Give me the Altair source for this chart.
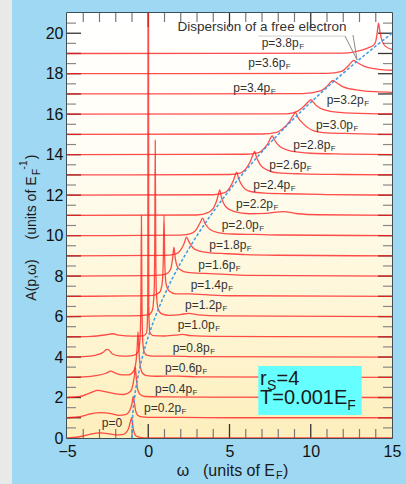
import altair as alt
import pandas as pd

FONT = "Liberation Sans"

# ---------------- data ----------------
p_labels = ["0", "0.2", "0.4", "0.6", "0.8", "1.0", "1.2", "1.4", "1.6", "1.8",
            "2.0", "2.2", "2.4", "2.6", "2.8", "3.0", "3.2", "3.4", "3.6", "3.8"]

# spectral function A(p, w) above each curve's baseline (baseline = index of p)
w00 = [-5, -4.3, -3.6, -3.0, -2.5, -2.0, -1.6, -1.35, -1.2, -1.1, -1.02, -0.95, -0.88, -0.75, -0.5, 0, 15]
a00 = [0.0, 0.05, 0.18, 0.25, 0.22, 0.15, 0.17, 0.28, 0.5, 0.8, 1.0, 0.6, 0.3, 0.1, 0.03, 0, 0]
w02 = [-5, -4.2, -3.5, -2.9, -2.3, -1.8, -1.4, -1.15, -1.0, -0.92, -0.86, -0.78, -0.65, -0.4, 0, 2, 5, 15]
a02 = [0.0, 0.05, 0.2, 0.25, 0.2, 0.12, 0.15, 0.35, 0.7, 1.05, 0.8, 0.35, 0.12, 0.04, 0.02, 0.02, 0.0, 0]
w04 = [-5, -4.2, -3.5, -3.1, -2.6, -2.0, -1.5, -1.1, -0.95, -0.85, -0.8, -0.74, -0.65, -0.5, -0.2, 1, 3, 15]
a04 = [0, 0.05, 0.25, 0.35, 0.28, 0.18, 0.15, 0.3, 0.6, 1.1, 1.5, 1.0, 0.4, 0.15, 0.05, 0.03, 0.02, 0]
w06 = [-5, -4, -3.2, -2.6, -2.3, -2.0, -1.6, -1.2, -0.9, -0.75, -0.68, -0.63, -0.58, -0.5, -0.35, -0.1, 0.5, 1.8, 3, 15]
a06 = [0, 0.02, 0.08, 0.2, 0.3, 0.2, 0.12, 0.12, 0.3, 0.8, 1.5, 2.25, 1.4, 0.6, 0.2, 0.08, 0.05, 0.06, 0.02, 0]
w08 = [-5, -4, -3.2, -2.8, -2.55, -2.45, -2.2, -1.8, -1.3, -0.9, -0.6, -0.5, -0.45, -0.42, -0.39, -0.34, -0.25, -0.1, 0.3, 1.5, 3, 15]
a08 = [0, 0.02, 0.1, 0.22, 0.38, 0.36, 0.15, 0.06, 0.05, 0.08, 0.3, 1.0, 3.0, 7.0, 3.0, 0.8, 0.25, 0.1, 0.05, 0.05, 0.02, 0]
w10 = [-5, -3.5, -2.6, -2.2, -1.8, -1.0, -0.3, -0.1, -0.03, 0, 0.03, 0.1, 0.3, 1.0, 1.7, 2.1, 2.6, 4, 15]
a10 = [0, 0.02, 0.1, 0.15, 0.08, 0.03, 0.05, 0.2, 1.5, 30, 1.5, 0.2, 0.06, 0.04, 0.08, 0.12, 0.06, 0.02, 0]
w12 = [-5, -2.5, -1, 0, 0.25, 0.36, 0.4, 0.43, 0.46, 0.5, 0.6, 0.8, 1.3, 2.0, 2.5, 3.1, 4.5, 15]
a12 = [0, 0.03, 0.03, 0.08, 0.3, 1.2, 3.5, 8.7, 3.5, 1.2, 0.4, 0.15, 0.06, 0.1, 0.16, 0.08, 0.03, 0]
w14 = [-5, -1, 0.3, 0.7, 0.85, 0.92, 0.97, 1.02, 1.1, 1.3, 1.7, 2.5, 3.5, 5, 15]
a14 = [0, 0.02, 0.05, 0.2, 0.6, 1.6, 4.0, 1.6, 0.6, 0.25, 0.12, 0.12, 0.08, 0.03, 0]
w16 = [-5, 0, 0.9, 1.2, 1.4, 1.5, 1.58, 1.66, 1.8, 2.0, 2.4, 3.5, 4.5, 6, 15]
a16 = [0, 0.02, 0.06, 0.15, 0.4, 0.9, 1.43, 0.9, 0.45, 0.3, 0.18, 0.13, 0.1, 0.04, 0]
w18 = [-5, 1, 1.7, 2.0, 2.2, 2.36, 2.5, 2.75, 3.1, 3.8, 4.5, 6, 8, 15]
a18 = [0, 0.02, 0.1, 0.3, 0.6, 0.92, 0.7, 0.4, 0.25, 0.15, 0.12, 0.06, 0.03, 0]
w20 = [-5, 2, 2.7, 3.0, 3.2, 3.34, 3.5, 3.8, 4.3, 5.2, 6.5, 8, 15]
a20 = [0, 0.02, 0.12, 0.35, 0.65, 0.86, 0.6, 0.3, 0.15, 0.08, 0.06, 0.03, 0]
w22 = [-5, 3, 3.7, 4.0, 4.2, 4.32, 4.4, 4.5, 4.8, 5.3, 6.2, 7.3, 8.3, 9.2, 10.5, 15]
a22 = [0, 0.02, 0.15, 0.35, 0.7, 1.05, 1.26, 0.9, 0.4, 0.18, 0.08, 0.1, 0.19, 0.08, 0.03, 0]
w24 = [-5, 4, 4.7, 5.0, 5.25, 5.38, 5.44, 5.55, 5.8, 6.3, 7.2, 8.5, 11, 15]
a24 = [0, 0.02, 0.12, 0.35, 0.75, 1.05, 1.14, 0.85, 0.45, 0.18, 0.1, 0.07, 0.03, 0]
w26 = [-5, 5, 5.7, 6.0, 6.3, 6.47, 6.55, 6.65, 6.9, 7.3, 8, 9.5, 12, 15]
a26 = [0, 0.02, 0.1, 0.3, 0.7, 1.05, 1.16, 0.9, 0.5, 0.25, 0.1, 0.05, 0.02, 0]
w28 = [-5, 6, 6.8, 7.1, 7.4, 7.55, 7.63, 7.75, 8.1, 8.9, 10, 12, 15]
a28 = [0, 0.02, 0.1, 0.28, 0.6, 0.85, 0.93, 0.75, 0.4, 0.16, 0.07, 0.03, 0]
w30 = [-5, 7, 7.9, 8.3, 8.7, 8.95, 9.06, 9.2, 9.5, 10.2, 11, 12.5, 15]
a30 = [0, 0.02, 0.1, 0.3, 0.65, 0.98, 1.09, 0.85, 0.56, 0.18, 0.08, 0.04, 0]
w32 = [-5, 8.5, 9.2, 9.6, 9.9, 10.02, 10.15, 10.4, 11.2, 12.5, 15]
a32 = [0, 0.02, 0.15, 0.4, 0.65, 0.72, 0.6, 0.39, 0.14, 0.05, 0.01]
w34 = [-5, 9.5, 10.6, 11.0, 11.25, 11.37, 11.55, 12.0, 13.0, 14.0, 15]
a34 = [0, 0.02, 0.15, 0.38, 0.6, 0.67, 0.58, 0.35, 0.18, 0.11, 0.08]
w36 = [-5, 11, 11.9, 12.3, 12.52, 12.64, 12.8, 13.3, 13.9, 14.5, 15]
a36 = [0, 0.02, 0.12, 0.38, 0.58, 0.66, 0.58, 0.36, 0.25, 0.19, 0.17]
w38 = [-5, 12, 12.7, 13.2, 13.6, 13.85, 14.0, 14.1, 14.17, 14.25, 14.4, 14.6, 15]
a38 = [0, 0.02, 0.08, 0.18, 0.3, 0.4, 0.6, 1.1, 1.5, 1.1, 0.6, 0.35, 0.2]

curves = [(w00, a00), (w02, a02), (w04, a04), (w06, a06), (w08, a08),
          (w10, a10), (w12, a12), (w14, a14), (w16, a16), (w18, a18),
          (w20, a20), (w22, a22), (w24, a24), (w26, a26), (w28, a28),
          (w30, a30), (w32, a32), (w34, a34), (w36, a36), (w38, a38)]

# free-electron dispersion (omega, offset)
disp_omega = [-1, -0.96, -0.84, -0.64, -0.36, 0, 0.44, 0.96, 1.56, 2.24, 3.0,
              3.84, 4.76, 5.76, 6.84, 8.0, 9.24, 10.56, 11.96, 13.44, 15.0]
disp_y = [0, 1, 2, 3, 4, 5, 6, 7, 8, 9, 10, 11, 12, 13, 14, 15, 16, 17, 18, 19, 20]

# curve label anchors
label_omega = [-2.86, -0.26, 0.42, 1.03, 1.50, 1.81, 2.26, 2.61, 3.08, 3.76,
               4.52, 5.40, 6.46, 7.45, 8.93, 10.32, 10.98, 5.23, 6.16, 6.98]
label_y = [0.73, 1.50, 2.42, 3.44, 4.46, 5.58, 6.57, 7.56, 8.55, 9.54,
           10.52, 11.55, 12.50, 13.49, 14.48, 15.46, 16.70, 17.28, 18.51, 19.50]

x_tick_labels = [-5, 0, 5, 10, 15]
y_tick_labels = [0, 2, 4, 6, 8, 10, 12, 14, 16, 18, 20]

# ---------------- tables ----------------
rows = []
for k, (ws, As) in enumerate(curves):
    for w, a in zip(ws, As):
        rows.append({"k": k, "omega": w, "y": k + a})
df_curves = pd.DataFrame(rows)
df_disp = pd.DataFrame({"omega": disp_omega, "y": disp_y})
df_labels = pd.DataFrame({
    "omega": label_omega, "y": label_y,
    "text": [("p=" + p + "p") if p != "0" else "p=0" for p in p_labels],
    "sub": ["F" if p != "0" else "" for p in p_labels],
})
df_ymaj = pd.DataFrame({"v": list(range(1, 21))})
df_ymin = pd.DataFrame({"v": [i + 0.5 for i in range(21)]})
df_xmaj = pd.DataFrame({"v": [0, 5, 10]})
df_xmin = pd.DataFrame({"v": [v for v in range(-4, 15) if v % 5 != 0]})
dummy = pd.DataFrame({"a": [0]})

W, H = 325, 425
xscale = alt.Scale(domain=[-5, 15], nice=False, zero=False)
yscale = alt.Scale(domain=[0, 21], nice=False, zero=False)
xaxis = alt.Axis(values=x_tick_labels, title=None, ticks=False, domain=False, grid=False,
                 labelFontSize=16, labelFont=FONT, labelColor="#111", labelPadding=5,
                 labelFlush=False)
yaxis = alt.Axis(values=y_tick_labels, title=None, ticks=False, domain=False, grid=False,
                 labelFontSize=16, labelFont=FONT, labelColor="#111", labelPadding=4)


def X(f):
    return alt.X(f, type="quantitative", scale=xscale, axis=xaxis)


def Y(f):
    return alt.Y(f, type="quantitative", scale=yscale, axis=yaxis)


layers = []

# gray strip at far left of canvas
layers.append(alt.Chart(dummy).mark_rect(color="#e9e9e9").encode(
    x=alt.value(-67), x2=alt.value(-55), y=alt.value(-13), y2=alt.value(471)))

# gradient plot background
grad = alt.Gradient(gradient="linear",
                    stops=[alt.GradientStop(color="#ffffff", offset=0),
                           alt.GradientStop(color="#fffdf3", offset=0.35),
                           alt.GradientStop(color="#fef6d6", offset=0.7),
                           alt.GradientStop(color="#fdeebc", offset=1)],
                    x1=0, x2=0, y1=0, y2=1)
layers.append(alt.Chart(dummy).mark_rect(color=grad).encode(
    x=alt.value(0), x2=alt.value(W), y=alt.value(0), y2=alt.value(H)))

# ticks (inward)
layers.append(alt.Chart(df_ymaj).mark_rule(color="#333", strokeWidth=1.3).encode(
    y=Y("v"), x=alt.value(0), x2=alt.value(14)))
layers.append(alt.Chart(df_ymaj).mark_rule(color="#333", strokeWidth=1.3).encode(
    y=Y("v"), x=alt.value(W), x2=alt.value(W - 14)))
layers.append(alt.Chart(df_ymin).mark_rule(color="#888", strokeWidth=1.2).encode(
    y=Y("v"), x=alt.value(0), x2=alt.value(9)))
layers.append(alt.Chart(df_ymin).mark_rule(color="#888", strokeWidth=1.2).encode(
    y=Y("v"), x=alt.value(W), x2=alt.value(W - 9)))
layers.append(alt.Chart(df_xmaj).mark_rule(color="#333", strokeWidth=1.3).encode(
    x=X("v"), y=alt.value(H), y2=alt.value(H - 14)))
layers.append(alt.Chart(df_xmaj).mark_rule(color="#333", strokeWidth=1.3).encode(
    x=X("v"), y=alt.value(0), y2=alt.value(14)))
layers.append(alt.Chart(df_xmin).mark_rule(color="#777", strokeWidth=1.2).encode(
    x=X("v"), y=alt.value(H), y2=alt.value(H - 9)))
layers.append(alt.Chart(df_xmin).mark_rule(color="#777", strokeWidth=1.2).encode(
    x=X("v"), y=alt.value(0), y2=alt.value(9)))

# spectral curves
layers.append(alt.Chart(df_curves).mark_line(
    color="#ff2020", opacity=0.8, strokeWidth=1.3, clip=True, interpolate="monotone").encode(
    x=X("omega"), y=Y("y"), detail="k:N"))

# free-electron dispersion
layers.append(alt.Chart(df_disp).mark_line(
    color="#3f9be6", strokeWidth=1.5, strokeDash=[3, 2], interpolate="monotone", clip=True).encode(
    x=X("omega"), y=Y("y")))

# curve labels
layers.append(alt.Chart(df_labels).mark_text(
    align="left", baseline="middle", fontSize=12, font=FONT, color="#333").encode(
    x=X("omega"), y=Y("y"), text="text:N"))
layers.append(alt.Chart(df_labels).mark_text(
    align="left", baseline="middle", fontSize=8, font=FONT, color="#333", dx=37.5, dy=4).encode(
    x=X("omega"), y=Y("y"), text="sub:N"))

# annotation "Dispersion of a free electron"
df_ann_line = pd.DataFrame({"x1": [6.77, 12.11, 12.6], "y1": [19.86, 19.86, 19.91],
                            "x2": [12.11, 12.85, 12.85], "y2": [19.86, 18.68, 18.68],
                            "c": ["u", "a", "a"]})
layers.append(alt.Chart(df_ann_line).mark_rule(strokeWidth=1).encode(
    x=X("x1"), y=Y("y1"), x2="x2:Q", y2="y2:Q",
    color=alt.Color("c:N", scale=alt.Scale(domain=["u", "a"], range=["#cfcfcf", "#8a8a8a"]),
                    legend=None)))
layers.append(alt.Chart(pd.DataFrame({"x": [7.0], "y": [20.3]})).mark_text(
    text="Dispersion of a free electron", fontSize=13.5, font=FONT, color="#333",
    align="center", baseline="middle").encode(x=X("x"), y=Y("y")))

# info box
layers.append(alt.Chart(pd.DataFrame({"x1": [6.77], "x2": [13.14], "y1": [1.14], "y2": [3.56]}))
              .mark_rect(color="#66ffff").encode(x=X("x1"), x2="x2:Q", y=Y("y1"), y2="y2:Q"))
box_txt = pd.DataFrame({
    "x": [6.88, 7.30, 7.89, 6.88, 12.24],
    "y": [2.62, 2.37, 2.62, 1.665, 1.38],
    "t": ["r", "S", "=4", "T=0.001E", "F"],
    "s": [20, 14, 20, 20, 14],
})
layers.append(alt.Chart(box_txt).mark_text(
    align="left", baseline="alphabetic", font=FONT, color="#1a1a1a").encode(
    x=X("x"), y=Y("y"), text="t:N",
    size=alt.Size("s:Q", scale=None, legend=None)))


def ptext(t, x, y, size, angle=0, align="center"):
    kw = dict(text=t, fontSize=size, font=FONT, color="#1a1a1a", align=align, baseline="middle")
    if angle:
        kw["angle"] = angle
    return alt.Chart(dummy).mark_text(**kw).encode(x=alt.value(x), y=alt.value(y))


# y-axis title (rotated)
layers.append(ptext("A(p,\u03c9)", -35, 267, 14, 270))
layers.append(ptext("(units of E", -35, 195, 14, 270))
layers.append(ptext("F", -30, 159, 10, 270))
layers.append(ptext("-1", -43, 152, 10, 270))
layers.append(ptext(")", -35, 144, 14, 270))

# x-axis title
layers.append(ptext("\u03c9", 116, 458, 16))
layers.append(ptext("(units of E", 136, 458, 16, align="left"))
layers.append(ptext("F", 209, 463, 11, align="left"))
layers.append(ptext(")", 216, 458, 16, align="left"))

chart = alt.layer(*layers).properties(
    width=W, height=H,
    autosize=alt.AutoSizeParams(type="none"),
    padding={"left": 67, "top": 13, "right": 14, "bottom": 46},
).configure(background="#9fd8f2").configure_view(stroke="#222", strokeWidth=1.5)

chart.save("out.html", embed_options={"renderer": "svg", "actions": False})
